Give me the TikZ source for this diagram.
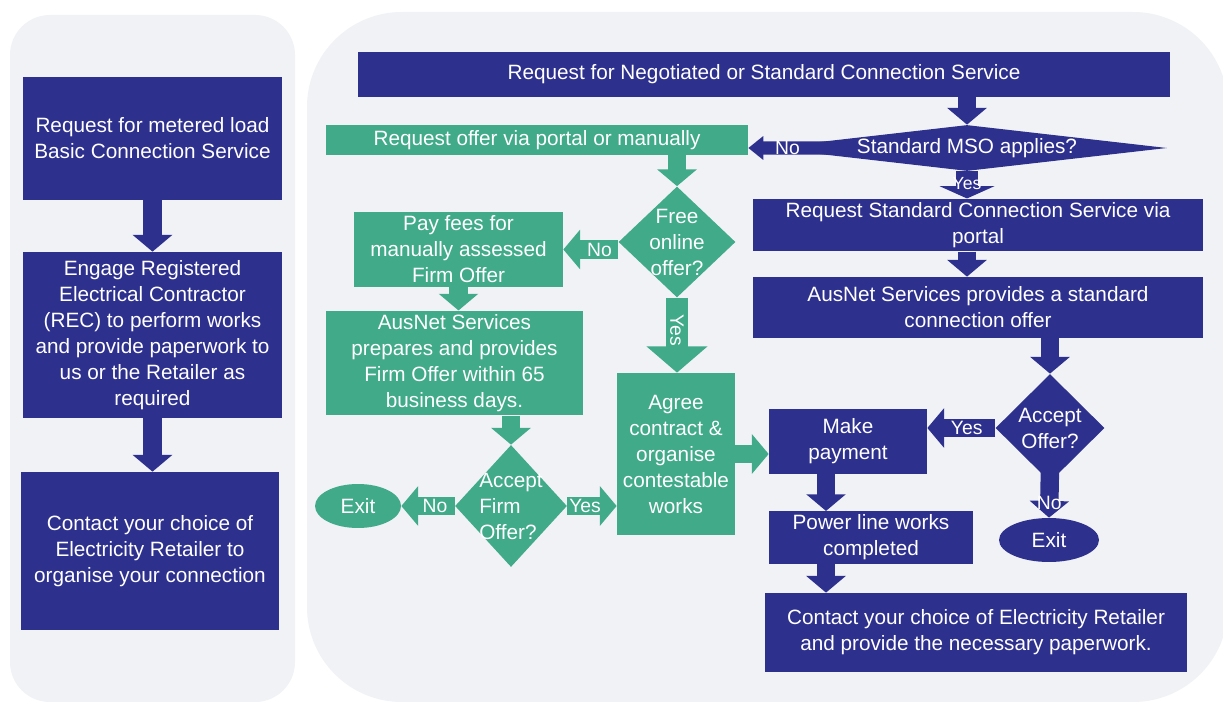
\documentclass[tikz,border=0pt]{standalone}
\usepackage{fontspec}
\setmainfont{Liberation Sans}
\usetikzlibrary{arrows.meta,shapes.geometric,calc}
\definecolor{navy}{RGB}{46,48,142}
\definecolor{sea}{RGB}{64,170,137}
\definecolor{panel}{RGB}{240,242,246}
\tikzset{
  box/.style={rectangle, inner sep=2pt, align=center, text=white,
    font=\fontsize{11.8}{14.8}\selectfont},
  bbox/.style={box, fill=navy},
  gbox/.style={box, fill=sea},
  dec/.style={diamond, inner sep=-3pt, align=center, text=white,
    font=\fontsize{11.8}{14.8}\selectfont},
  flow/.style={line width=10.5pt, -{Triangle[length=9.5pt,width=22pt]}},
  lbl/.style={text=white, inner sep=0pt, font=\fontsize{11}{13}\selectfont}
}

\begin{document}
\begin{tikzpicture}[x=0.02cm,y=-0.02cm]
  \fill[white] (0,0) rectangle (1223,702);
  \useasboundingbox (0,0) rectangle (1223,702);

  % Panels
  \fill[panel, rounded corners=0.8cm] (10,15) rectangle (295,702);
  \fill[panel, rounded corners=1.9cm] (307,12) rectangle (1228,702);

  % Left side: basic connection
  \node[bbox, minimum width=5.18cm, minimum height=2.46cm] (basic) at (152.5,138.5)
    {Request for metered load\\Basic Connection Service};
  \node[bbox, minimum width=5.18cm, minimum height=3.32cm] (rec) at (152.5,335)
    {Engage Registered\\Electrical Contractor\\(REC) to perform works\\and provide paperwork to\\us or the Retailer as\\required};
  \node[bbox, minimum width=5.16cm, minimum height=3.16cm] (retail) at (150,551)
    {Contact your choice of\\Electricity Retailer to\\organise your connection};

  \draw[navy, flow] (basic.south) -- (rec.north);
  \draw[navy, flow] (rec.south) -- (rec.south |- retail.north);

  % Right side: negotiated or standard connection
  \node[bbox, minimum width=16.24cm, minimum height=0.9cm] (request) at (764,74.5)
    {Request for Negotiated or Standard Connection Service};
  \node[dec, fill=navy, aspect=8.7, minimum width=8cm, minimum height=0.92cm] (mso) at (967,148)
    {Standard MSO applies?};
  \node[gbox, minimum width=8.44cm, minimum height=0.6cm] (offer) at (537,140)
    {Request offer via portal or manually};
  \node[dec, fill=sea, aspect=1.05, minimum width=2.34cm, minimum height=2.22cm] (free) at (677,242)
    {Free\\online\\offer?};
  \node[gbox, minimum width=4.18cm, minimum height=1.5cm] (fees) at (458.5,249.5)
    {Pay fees for\\manually assessed\\Firm Offer};
  \node[gbox, minimum width=5.14cm, minimum height=2cm] (firm) at (454.5,363)
    {AusNet Services\\prepares and provides\\Firm Offer within 65\\business days.};
  \node[dec, fill=sea, aspect=0.92, minimum width=2.24cm, minimum height=2.44cm, align=left] (accfirm) at (511,506)
    {Accept\\Firm\\Offer?};
  \node[ellipse, fill=sea, text=white, inner sep=0pt, minimum width=1.72cm, minimum height=0.88cm,
    font=\fontsize{11.8}{14.8}\selectfont] (exitg) at (358,506) {Exit};
  \node[gbox, minimum width=2.36cm, minimum height=3.24cm] (agree) at (676,454)
    {Agree\\contract \&\\organise\\contestable\\works};
  \node[bbox, minimum width=9cm, minimum height=1cm] (stdreq) at (978,225)
    {Request Standard Connection Service via\\portal};
  \node[bbox, minimum width=9cm, minimum height=1.22cm] (stdoffer) at (978,307.5)
    {AusNet Services provides a standard\\connection offer};
  \node[dec, fill=navy, aspect=1, minimum width=2.18cm, minimum height=2.16cm] (accoff) at (1050,428)
    {Accept\\Offer?};
  \node[bbox, minimum width=3.16cm, minimum height=1.3cm] (pay) at (848,441.5)
    {Make\\payment};
  \node[ellipse, fill=navy, text=white, inner sep=0pt, minimum width=2cm, minimum height=0.88cm,
    font=\fontsize{11.8}{14.8}\selectfont] (exitb) at (1049,540) {Exit};
  \node[bbox, minimum width=4.08cm, minimum height=0.98cm] (works) at (871,537.5)
    {Power line works\\completed};
  \node[bbox, minimum width=8.44cm, minimum height=1.58cm] (contact) at (976,632.5)
    {Contact your choice of Electricity Retailer\\and provide the necessary paperwork.};

  \coordinate (paycol) at ($(pay.south)+(-22,0)$);

  % Blue connectors
  \draw[navy, flow] (mso.north |- request.south) -- (mso.north);
  \draw[navy, line width=7.5pt, -{Triangle[length=8.5pt,width=13pt]}]
    ($(mso.west)!0.3!(mso.center)$) -- (mso.west -| offer.east) node[lbl, pos=0.5] {No};
  \draw[navy, line width=12pt, -{Triangle[length=7pt,width=31pt]}]
    (mso.south) -- (mso.south |- stdreq.north) node[lbl, pos=0.45, font=\fontsize{10}{12}\selectfont] {Yes};
  \draw[navy, flow] (mso.south |- stdreq.south) -- (mso.south |- stdoffer.north);
  \draw[navy, flow] (accoff.north |- stdoffer.south) -- (accoff.north);
  \draw[navy, flow] (accoff.west) -- (accoff.west -| pay.east) node[lbl, pos=0.42] {Yes};
  \draw[navy, flow] ([yshift=0.3cm]accoff.south) -- (exitb.north) node[lbl, pos=0.7] {No};
  \draw[navy, flow] (paycol) -- (paycol |- works.north);
  \draw[navy, flow] (paycol |- works.south) -- (paycol |- contact.north);

  % Green connectors
  \draw[sea, flow] (offer.south -| free.north) -- (free.north);
  \draw[sea, flow] (free.west |- fees.east) -- (fees.east) node[lbl, pos=0.34] {No};
  \draw[sea, line width=13pt, -{Triangle[length=15pt,width=34pt]}]
    (free.south) -- (free.south |- agree.north) node[lbl, pos=0.43, rotate=-90] {Yes};
  \draw[sea, flow] (fees.south) -- (fees.south |- firm.north);
  \draw[sea, flow] (accfirm.north |- firm.south) -- (accfirm.north);
  \draw[sea, flow] (accfirm.west) -- (exitg.east) node[lbl, pos=0.37] {No};
  \draw[sea, flow] (accfirm.east) -- (accfirm.east -| agree.west) node[lbl, pos=0.36] {Yes};
  \draw[sea, flow] (agree.east) -- (agree.east -| pay.west);
\end{tikzpicture}
\end{document}
